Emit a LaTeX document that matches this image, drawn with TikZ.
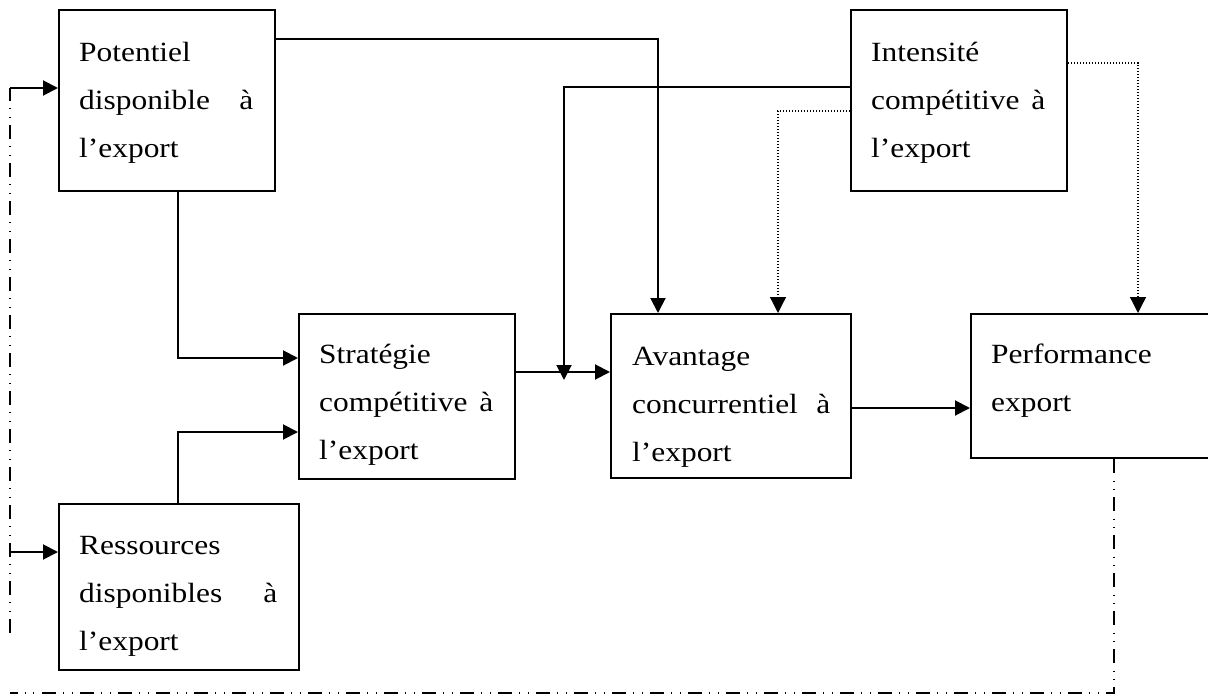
\documentclass[tikz,border=0pt]{standalone}
\usepackage{fontspec}
\setmainfont[FakeStretch=1.13]{Liberation Serif}
\usetikzlibrary{arrows.meta,calc}
\begin{document}
\begin{tikzpicture}[x=1pt,y=-1pt,
 box/.style={draw, line width=2pt, rectangle, anchor=north west, inner sep=0pt},
 txt/.style={anchor=north west, inner sep=0pt, align=left, font=\fontsize{27.8}{48}\selectfont},
 conn/.style={line width=2pt},
 arr/.style={conn, -{Triangle[length=15pt,width=15pt]}},
 dotl/.style={line width=1.3pt, dash pattern=on 1.2pt off 1.8pt, -{Triangle[length=16pt,width=16pt]}},
 ddot/.style={line width=1.7pt, dash pattern=on 14pt off 7.5pt on 1pt off 7.5pt on 1pt off 7pt}]
\useasboundingbox (0,0) rectangle (1208,696);
\clip (0,0) rectangle (1208,696);

% boxes
\node[box, minimum width=216pt, minimum height=181pt] (pot) at (58,9) {};
\node[box, minimum width=216pt, minimum height=181pt] (int) at (850,9) {};
\node[box, minimum width=216pt, minimum height=165pt] (str) at (298,313) {};
\node[box, minimum width=240pt, minimum height=164pt] (ava) at (610,313) {};
\node[box, minimum width=270pt, minimum height=144pt] (perf) at (970,313) {};
\node[box, minimum width=240pt, minimum height=166pt] (res) at (58,503) {};

% texts
\node[txt, text width=174pt] (potT) at ($(pot.north west)+(21,18.4)$) {\strut Potentiel\\ disponible\hfill à\\ l’export};
\node[txt, text width=174pt] (intT) at ($(int.north west)+(21,18.4)$) {\strut Intensité\\ compétitive\hfill à\\ l’export};
\node[txt, text width=174pt] (strT) at ($(str.north west)+(21,16.4)$) {\strut Stratégie\\ compétitive\hfill à\\ l’export};
\node[txt, text width=198pt] (avaT) at ($(ava.north west)+(22,18.4)$) {\strut Avantage\\ concurrentiel\hfill à\\ l’export};
\node[txt, text width=200pt] (perfT) at ($(perf.north west)+(21,16.4)$) {\strut Performance\\ export};
\node[txt, text width=198pt] (resT) at ($(res.north west)+(21,17.4)$) {\strut Ressources\\ disponibles\hfill à\\ l’export};

% connectors
\draw[arr] ($(pot.north east)+(0,30)$) -| ($(ava.north west)+(48,0)$);
\draw[arr] ($(pot.south west)+(120,0)$) |- ($(str.north west)+(0,45)$);
\draw[arr] ($(res.north west)+(120,0)$) |- ($(str.north west)+(0,119)$);
\draw[arr] ($(str.north east)+(0,59)$) -- ($(ava.north west)+(0,59)$);
\draw[arr] ($(int.north west)+(0,78)$) -| ($(str.north east)+(48,67)$);
\draw[dotl] ($(int.north west)+(0,102)$) -| ($(ava.north west)+(168,0)$);
\draw[dotl] ($(int.north east)+(0,54)$) -| ($(perf.north west)+(168,0)$);
\draw[arr] ($(ava.north east)+(0,95)$) -- ($(perf.north west)+(0,95)$);

% feedback loop
\coordinate (lowR) at (1114,693);
\coordinate (lowL) at (10,693);
\coordinate (vbot) at (10,633);
\coordinate (vtop) at (10,88);
\coordinate (vres) at (10,552);
\draw[ddot] ($(perf.south west)+(144,0)$) -- (lowR) -- (lowL);
\draw[ddot] (vbot) -- (vtop);
\draw[arr] (vtop) -- (pot.west |- vtop);
\draw[arr] (vres) -- (res.west |- vres);
\end{tikzpicture}
\end{document}
